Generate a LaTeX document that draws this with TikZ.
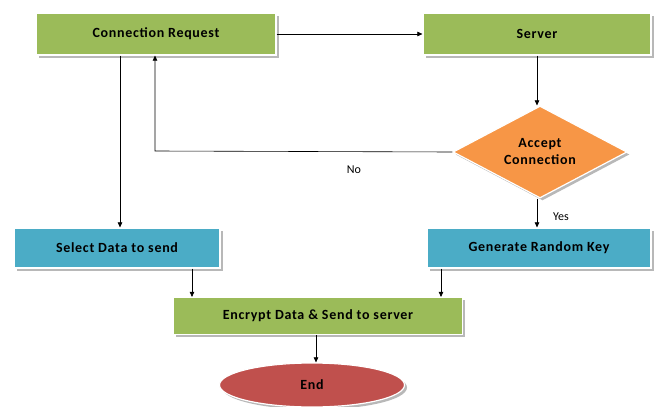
\documentclass[tikz,border=0pt]{standalone}
\usepackage{fontspec}
\setmainfont{Carlito}
\newfontfamily\boxfont[LetterSpace=5]{Carlito}
\usetikzlibrary{arrows.meta,shapes.geometric,shadows}
\definecolor{flowGreen}{HTML}{9BBB59}
\definecolor{flowBlue}{HTML}{4BACC6}
\definecolor{flowOrange}{HTML}{F79646}
\definecolor{flowRed}{HTML}{C0504D}
\definecolor{flowShadow}{HTML}{B8B8B8}
\begin{document}
\begin{tikzpicture}[x=1pt,y=-1pt,
  stepbox/.style={draw=white, line width=1.2pt, inner sep=0pt,
    font=\boxfont\bfseries\fontsize{14}{17}\selectfont,
    drop shadow={shadow xshift=2.5pt, shadow yshift=-2.5pt, fill=flowShadow, opacity=1}},
  flow/.style={-{Triangle[length=5pt,width=4.5pt]}, black, line width=0.6pt},
  plain/.style={font=\fontsize{12}{14}\selectfont}]
  \useasboundingbox (0,0) rectangle (657,407);

  \node[stepbox, fill=flowGreen, minimum width=240pt, minimum height=42pt] (req) at (156,34)
    {Connection Request};
  \node[stepbox, fill=flowGreen, minimum width=228pt, minimum height=42pt] (srv) at (537,34)
    {Server};
  \node[stepbox, diamond, aspect=1.9, fill=flowOrange, minimum width=174pt, minimum height=92pt,
    align=center] (acc) at (540,152) {Accept\\Connection};
  \node[stepbox, fill=flowBlue, minimum width=206pt, minimum height=40pt] (sel) at (117,248)
    {Select Data to send};
  \node[stepbox, fill=flowBlue, minimum width=224pt, minimum height=40pt] (gen) at (539,248)
    {Generate Random Key};
  \node[stepbox, fill=flowGreen, minimum width=289pt, minimum height=37pt] (enc) at (318,316)
    {Encrypt Data \& Send to server};
  \node[stepbox, ellipse, fill=flowRed, minimum width=185pt, minimum height=44pt] (end) at (312,385)
    {End};

  \draw[flow] (req.east) -- (srv.west);
  \draw[flow] (srv.south -| 537,0) -- (acc.north -| 537,0);
  \draw[flow] (acc.west) -- (155,151) -- (req.south -| 155,0);
  \node[plain] (no) at (354,170) {No};
  \draw[flow] (req.south -| 120,0) -- (sel.north -| 120,0);
  \draw[flow] (acc.south -| 537,0) -- (gen.north -| 537,0);
  \node[plain] (yes) at (561,217) {Yes};
  \draw[flow] (sel.south -| 192,0) -- (enc.north -| 192,0);
  \draw[flow] (gen.south -| 441,0) -- (enc.north -| 441,0);
  \draw[flow] (enc.south -| 316,0) -- (end.north -| 316,0);
\end{tikzpicture}
\end{document}
